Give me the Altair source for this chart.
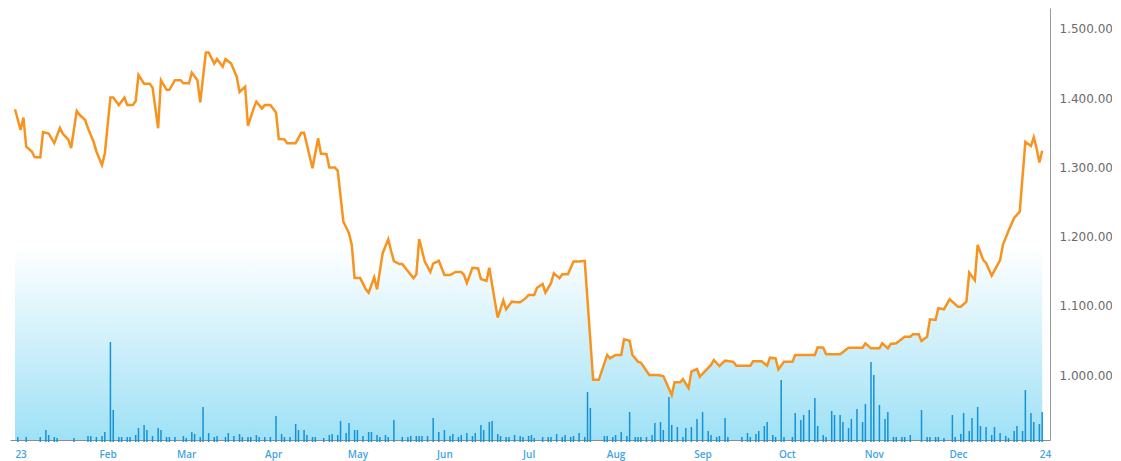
import altair as alt
import pandas as pd

# ---- data (days counted from 2022-12-30) ----
price_day = [0, 2, 3, 4, 6, 7, 9, 10, 12, 14, 16, 17, 19, 20, 22, 23, 25, 26, 28, 29,
             31, 32, 34, 35, 37, 39, 40, 42, 43, 44, 46, 48, 49, 51, 52, 54, 55, 57, 59, 60,
             62, 63, 65, 66, 68, 69, 71, 72, 74, 75, 77, 79, 80, 82, 83, 85, 86, 88, 89, 91,
             93, 94, 96, 97, 100, 102, 103, 106, 108, 109, 111, 112, 114, 115, 117, 119, 120, 121, 123, 125,
             126, 128, 129, 131, 133, 134, 135, 137, 138, 140, 142, 143, 144, 146, 148, 149, 151, 153, 155, 157,
             159, 160, 161, 163, 165, 166, 168, 169, 171, 172, 174, 175, 177, 179, 180, 182, 183, 185, 186, 188,
             189, 191, 192, 194, 195, 197, 199, 201, 203, 206, 208, 211, 212, 214, 216, 217, 219, 220, 222, 223,
             226, 229, 231, 234, 235, 237, 238, 240, 241, 243, 244, 246, 248, 249, 251, 253, 256, 257, 262, 263,
             266, 268, 269, 271, 272, 274, 277, 278, 285, 286, 288, 289, 294, 297, 302, 303, 305, 308, 309, 311,
             312, 314, 317, 319, 320, 322, 323, 325, 326, 328, 329, 331, 333, 336, 337, 339, 340, 342, 343, 345,
             346, 348, 351, 352, 354, 356, 358, 360, 362, 363, 364, 365, 366]
price_close = [1384, 1354, 1372, 1330, 1323, 1315, 1314.5, 1351, 1349, 1335, 1357, 1349, 1340, 1328, 1381.5, 1376, 1368.5, 1356.5, 1337, 1323,
               1303.5, 1320, 1401, 1401, 1390, 1401, 1390, 1390, 1396, 1433.5, 1421, 1421, 1415.5, 1356.5, 1426, 1412, 1412, 1426, 1426, 1421.5,
               1421.5, 1437, 1426, 1394, 1466, 1466, 1450, 1456.6, 1445.5, 1456.6, 1450, 1431, 1409, 1416.5, 1360, 1385, 1395, 1385, 1390, 1390,
               1379.5, 1341, 1340.5, 1335, 1335, 1350, 1350, 1298.7, 1342, 1320, 1319, 1300, 1300, 1295, 1221.5, 1205, 1188, 1140, 1140, 1124,
               1119, 1141, 1124, 1176, 1196, 1179.6, 1164.7, 1160.4, 1160.4, 1150, 1140, 1145.5, 1196.5, 1164, 1149, 1161, 1165, 1144.5, 1144.5, 1149,
               1149, 1144.5, 1133, 1155, 1154, 1138.7, 1136, 1155, 1106, 1083, 1108, 1095, 1106, 1105, 1105, 1111, 1115.6, 1115.6, 1126, 1131.5,
               1119, 1133, 1147, 1140, 1145.5, 1145.5, 1164, 1164, 1165, 993, 993, 1029, 1024, 1029, 1029, 1051.5, 1049.5, 1029, 1019, 1018,
               1000, 1000, 998.5, 971, 989.5, 989.5, 994, 981, 1005, 1008.7, 997.6, 1006, 1014.5, 1021.7, 1013, 1020.7, 1019, 1013.4, 1013.4, 1020,
               1020, 1013.4, 1025, 1024, 1008, 1019, 1019, 1029, 1029, 1040, 1039.5, 1030, 1030, 1039.5, 1039.5, 1045.8, 1038.5, 1038.5, 1045.8, 1038.5,
               1044.8, 1045.8, 1055.4, 1055.4, 1059, 1059, 1049, 1055.4, 1080.5, 1079.5, 1096.4, 1095, 1109.4, 1098.7, 1098.7, 1106, 1148, 1137, 1188, 1166,
               1162, 1143.5, 1166, 1188, 1208.5, 1227, 1236, 1337, 1331, 1343.5, 1327.6, 1307, 1324]

vol_day = [1, 4, 9, 11, 12, 14, 15, 21, 26, 27, 29, 31, 32, 34, 35, 37, 38, 40, 41, 43,
           44, 46, 47, 49, 51, 52, 54, 55, 57, 60, 61, 63, 64, 66, 67, 69, 71, 72, 75, 76,
           78, 80, 81, 83, 84, 86, 87, 89, 91, 93, 95, 96, 98, 100, 101, 103, 104, 106, 107, 110,
           112, 113, 115, 116, 118, 119, 121, 122, 124, 126, 127, 129, 130, 132, 133, 135, 138, 140, 141, 143,
           144, 145, 147, 149, 151, 153, 155, 156, 158, 159, 161, 163, 164, 166, 167, 169, 170, 172, 173, 175,
           176, 178, 180, 181, 183, 184, 185, 188, 190, 191, 193, 195, 196, 198, 199, 201, 203, 204, 205, 210,
           211, 213, 214, 216, 218, 219, 221, 222, 223, 225, 227, 228, 230, 231, 233, 234, 236, 238, 239, 241,
           243, 245, 247, 248, 250, 251, 253, 254, 259, 261, 262, 264, 265, 267, 268, 270, 271, 273, 274, 277,
           278, 280, 281, 283, 285, 286, 288, 289, 291, 292, 294, 295, 297, 298, 300, 302, 303, 305, 306, 308,
           310, 311, 313, 314, 316, 317, 319, 323, 325, 326, 328, 329, 331, 334, 335, 337, 338, 340, 341, 343,
           344, 346, 348, 349, 351, 353, 354, 356, 357, 359, 360, 362, 363, 365, 366]
vol_k = [30, 30, 30, 100, 50, 30, 20, 20, 40, 40, 30, 40, 80, 980, 300, 30, 30, 30, 30, 50,
         120, 150, 100, 40, 120, 100, 30, 30, 30, 40, 20, 80, 60, 30, 330, 70, 30, 40, 30, 70,
         40, 60, 30, 30, 30, 50, 30, 30, 30, 240, 60, 30, 30, 160, 100, 100, 50, 30, 30, 20,
         50, 60, 50, 190, 70, 170, 100, 100, 40, 80, 80, 50, 30, 50, 30, 200, 30, 30, 40, 40,
         40, 40, 40, 220, 80, 100, 40, 60, 30, 50, 70, 40, 70, 150, 100, 180, 190, 60, 40, 30,
         30, 50, 40, 30, 40, 50, 20, 30, 30, 30, 60, 30, 50, 30, 40, 70, 30, 480, 320, 40,
         40, 30, 50, 80, 40, 280, 30, 30, 30, 30, 50, 170, 180, 100, 430, 150, 130, 30, 120, 130,
         210, 280, 90, 50, 30, 40, 220, 30, 30, 70, 30, 60, 90, 140, 180, 50, 30, 600, 30, 30,
         270, 200, 250, 300, 420, 140, 50, 30, 290, 250, 250, 180, 120, 210, 310, 180, 360, 780, 650, 350,
         210, 280, 30, 30, 30, 30, 50, 300, 30, 30, 30, 30, 20, 250, 30, 60, 270, 90, 220, 330,
         140, 130, 50, 130, 70, 40, 20, 90, 140, 90, 500, 270, 180, 160, 280]

month_ticks = ["2023-01-01", "2023-02-01", "2023-03-01", "2023-04-01", "2023-05-01",
               "2023-06-01", "2023-07-01", "2023-08-01", "2023-09-01", "2023-10-01",
               "2023-11-01", "2023-12-01", "2024-01-01"]
price_ticks = [1000, 1100, 1200, 1300, 1400, 1500]

start = pd.Timestamp("2022-12-30")


def to_date(d):
    return (start + pd.Timedelta(days=d)).strftime("%Y-%m-%d")


def ms(s):
    return int(pd.Timestamp(s, tz="UTC").timestamp() * 1000)


price_df = pd.DataFrame({"date": [to_date(d) for d in price_day], "close": price_close})
vol_df = pd.DataFrame({"date": [to_date(d) for d in vol_day], "vol": vol_k})

FONT = "DejaVu Sans"
price_min, price_max = 906.1, 1530.3

x_scale = alt.Scale(type="utc", domain=[ms("2022-12-30"), ms("2024-01-01")])
y_price = alt.Scale(domain=[price_min, price_max], nice=False, zero=False)

x_axis = alt.Axis(
    values=[ms(t) for t in month_ticks],
    labelExpr="utcFormat(datum.value, '%m') == '01' ? utcFormat(datum.value, '%y') : utcFormat(datum.value, '%b')",
    ticks=False, grid=False, domain=True, domainColor="#8c8c8c", domainWidth=1,
    labelColor="#45a3de", labelFont="Open Sans", labelFontSize=10, labelFontWeight=600,
    labelPadding=9, labelFlush=False, labelOverlap=False, title=None,
)
x_enc = alt.X("date:T", scale=x_scale, axis=x_axis)

area = alt.Chart(price_df).mark_area(
    color=alt.Gradient(
        gradient="linear",
        stops=[alt.GradientStop(color="#ffffff", offset=0),
               alt.GradientStop(color="#ffffff", offset=0.5),
               alt.GradientStop(color="#9fe1f6", offset=1)],
        x1=1, x2=1, y1=0, y2=1,
    )
).encode(
    x=x_enc,
    y=alt.Y("close:Q", scale=y_price, axis=None),
    y2=alt.datum(price_min),
)

bars = alt.Chart(vol_df).mark_bar(width=1.5, color="#1592d6").encode(
    x=x_enc,
    y=alt.Y("vol:Q", scale=alt.Scale(domain=[0, 4320]), axis=None),
    y2=alt.datum(-20),
)

line = alt.Chart(price_df).mark_line(color="#f7931e", strokeWidth=2.5).encode(
    x=x_enc,
    y=alt.Y("close:Q", scale=y_price, axis=alt.Axis(
        orient="right", values=price_ticks,
        labelExpr="replace(format(datum.value, ',.2f'), ',', '.')",
        ticks=False, grid=False, domain=True, domainColor="#9a9a9a", domainWidth=1,
        labelColor="#6b6b6b", labelFont=FONT, labelFontSize=12, labelPadding=9, title=None,
    )),
)

chart = alt.layer(area, bars, line).resolve_scale(y="independent").properties(
    width=1040, height=432,
    padding={"left": 2, "top": 0, "right": 62, "bottom": 21},
    autosize=alt.AutoSizeParams(type="none"),
    background="white",
).configure_view(stroke=None)

chart.save("out.html", embed_options={"renderer": "svg", "actions": False})
